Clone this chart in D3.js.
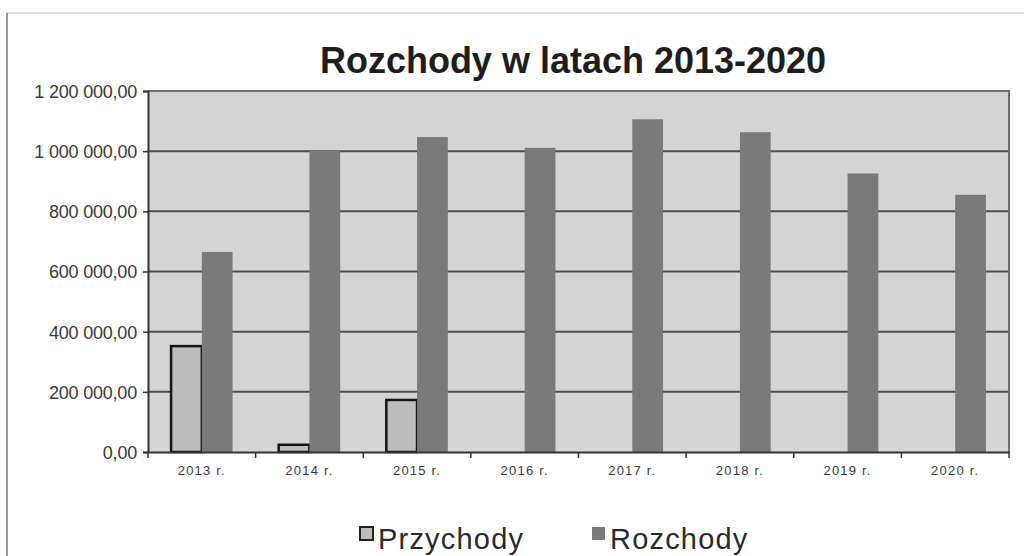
<!DOCTYPE html>
<html>
<head>
<meta charset="utf-8">
<script src="https://cdn.jsdelivr.net/npm/d3@7"></script>
<style>
    body { margin: 0; background: #fff; }
    svg { display: block; font-family: "Liberation Sans", Arial, sans-serif; }
</style>
</head>
<body>
<div id="chart"></div>
<script>
// data
const years = ["2013 r.", "2014 r.", "2015 r.", "2016 r.", "2017 r.", "2018 r.", "2019 r.", "2020 r."];
const seriesNames = ["Przychody", "Rozchody"];
const przychody = [352000, 24000, 173000, 0, 0, 0, 0, 0];
const rozchody = [665000, 1001000, 1047000, 1011000, 1106000, 1063000, 926000, 855000];
const yTicks = [0, 200000, 400000, 600000, 800000, 1000000, 1200000];

const width = 1024, height = 556;
const plot = { left: 148, top: 91, right: 1009, bottom: 452 };

const fills = { Przychody: "#bcbcbc", Rozchody: "#7a7a7a" };

const svg = d3.select("#chart")
    .append("svg")
    .attr("width", width)
    .attr("height", height);

// outer frame (only top and left edges are visible in the scan)
svg.append("line")
    .attr("x1", 7).attr("y1", 13).attr("x2", width).attr("y2", 13)
    .attr("stroke", "#d0d0d0").attr("stroke-width", 1.5);
svg.append("line")
    .attr("x1", 7).attr("y1", 13).attr("x2", 7).attr("y2", height)
    .attr("stroke", "#7a7a7a").attr("stroke-width", 1.5);

// title
svg.append("text")
    .attr("x", 573)
    .attr("y", 73)
    .attr("text-anchor", "middle")
    .style("font-size", "36px")
    .style("font-weight", "bold")
    .style("fill", "#1e1e1e")
    .text("Rozchody w latach 2013-2020");

const x0 = d3.scaleBand()
    .domain(years)
    .range([plot.left, plot.right])
    .padding(0);

const x1 = d3.scaleBand()
    .domain(seriesNames)
    .range([0, x0.bandwidth()])
    .paddingInner(0)
    .paddingOuter(0.75);

const y = d3.scaleLinear()
    .domain([0, 1200000])
    .range([plot.bottom, plot.top]);

// plot background
svg.append("rect")
    .attr("x", plot.left)
    .attr("y", plot.top)
    .attr("width", plot.right - plot.left)
    .attr("height", plot.bottom - plot.top)
    .attr("fill", "#d4d4d4");

// grid lines
svg.append("g")
    .selectAll("line")
    .data(yTicks.filter(d => d > 0 && d < 1200000))
    .enter()
    .append("line")
    .attr("x1", plot.left)
    .attr("x2", plot.right)
    .attr("y1", d => y(d))
    .attr("y2", d => y(d))
    .attr("stroke", "#4e4e4e")
    .attr("stroke-width", 2);

// plot border top / right
svg.append("path")
    .attr("d", `M${plot.left},${plot.top}H${plot.right}V${plot.bottom}`)
    .attr("fill", "none")
    .attr("stroke", "#6e6e6e")
    .attr("stroke-width", 2);

// bars
const rows = years.map((yr, i) => ({ year: yr, Przychody: przychody[i], Rozchody: rozchody[i] }));

const groups = svg.append("g")
    .selectAll("g")
    .data(rows)
    .enter()
    .append("g")
    .attr("transform", d => `translate(${x0(d.year)},0)`);

groups.selectAll("rect")
    .data(d => seriesNames.map(s => ({ key: s, value: d[s] })).filter(e => e.value > 0))
    .enter()
    .append("rect")
    .attr("x", d => x1(d.key))
    .attr("y", d => y(d.value))
    .attr("width", x1.bandwidth())
    .attr("height", d => y(0) - y(d.value))
    .attr("fill", d => fills[d.key])
    .attr("stroke", d => d.key === "Przychody" ? "#141414" : "none")
    .attr("stroke-width", 2.5);

// y axis
const yAxis = d3.axisLeft(y)
    .tickValues(yTicks)
    .tickSize(5)
    .tickPadding(6)
    .tickFormat(d => d3.format(",.2f")(d).replace(/,/g, " ").replace(".", ","));

const gy = svg.append("g")
    .attr("transform", `translate(${plot.left},0)`)
    .call(yAxis);
gy.select(".domain").attr("stroke", "#333").attr("stroke-width", 2);
gy.selectAll(".tick line").attr("stroke", "#333").attr("stroke-width", 1.5);
gy.selectAll(".tick text")
    .style("font-size", "18px")
    .style("letter-spacing", "-0.2px")
    .style("fill", "#3a3a3a")
    .attr("dy", "0.36em");

// x axis
const xAxis = d3.axisBottom(x0)
    .tickSize(0)
    .tickPadding(14);

const gx = svg.append("g")
    .attr("transform", `translate(0,${plot.bottom})`)
    .call(xAxis);
gx.select(".domain").attr("stroke", "#333").attr("stroke-width", 2);
gx.selectAll(".tick text")
    .style("font-size", "13px")
    .style("letter-spacing", "1.2px")
    .style("fill", "#3a3a3a");

// tick marks at category boundaries
gx.append("g")
    .selectAll("line")
    .data(years.concat(["end"]))
    .enter()
    .append("line")
    .attr("x1", (d, i) => i < years.length ? x0(d) : plot.right)
    .attr("x2", (d, i) => i < years.length ? x0(d) : plot.right)
    .attr("y1", 0)
    .attr("y2", 6)
    .attr("stroke", "#333")
    .attr("stroke-width", 1.5);

// legend
const legendItems = [
    { key: "Przychody", x: 360 },
    { key: "Rozchody", x: 592 }
];
const legend = svg.append("g");
legend.selectAll("rect")
    .data(legendItems)
    .enter()
    .append("rect")
    .attr("x", d => d.x)
    .attr("y", 527)
    .attr("width", 13)
    .attr("height", 13)
    .attr("fill", d => fills[d.key])
    .attr("stroke", d => d.key === "Przychody" ? "#222" : "none")
    .attr("stroke-width", 2);
legend.selectAll("text")
    .data(legendItems)
    .enter()
    .append("text")
    .attr("x", d => d.x + 18)
    .attr("y", 549)
    .style("font-size", "29px")
    .style("letter-spacing", "1.2px")
    .style("fill", "#2a2a2a")
    .text(d => d.key);
</script>
</body>
</html>
